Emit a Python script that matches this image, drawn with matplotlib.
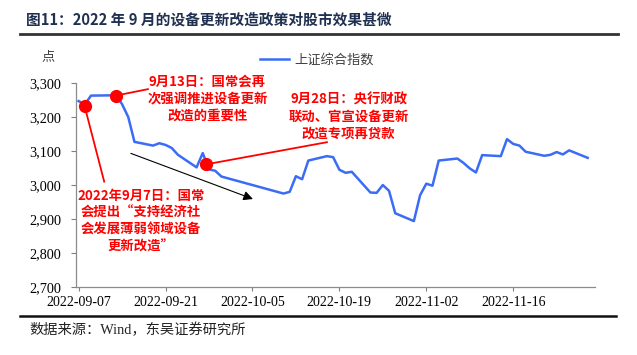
import matplotlib
matplotlib.use("Agg")
import matplotlib.pyplot as plt
import pandas as pd

CJK = ['Noto Sans CJK SC', 'DejaVu Sans']
SERIF = ['Liberation Serif', 'DejaVu Serif']
SERIF_CJK = ['Liberation Serif', 'Noto Sans CJK SC']

dates = ["2022-09-07", "2022-09-08", "2022-09-09", "2022-09-13", "2022-09-14", "2022-09-15",
         "2022-09-16", "2022-09-19", "2022-09-20", "2022-09-21", "2022-09-22", "2022-09-23",
         "2022-09-26", "2022-09-27", "2022-09-28", "2022-09-29", "2022-09-30", "2022-10-10",
         "2022-10-11", "2022-10-12", "2022-10-13", "2022-10-14", "2022-10-17", "2022-10-18",
         "2022-10-19", "2022-10-20", "2022-10-21", "2022-10-24", "2022-10-25", "2022-10-26",
         "2022-10-27", "2022-10-28", "2022-10-31", "2022-11-01", "2022-11-02", "2022-11-03",
         "2022-11-04", "2022-11-07", "2022-11-08", "2022-11-09", "2022-11-10", "2022-11-11",
         "2022-11-14", "2022-11-15", "2022-11-16", "2022-11-17", "2022-11-18", "2022-11-21",
         "2022-11-22", "2022-11-23", "2022-11-24", "2022-11-25", "2022-11-28"]
sse = [3246, 3236, 3262, 3263, 3237, 3199, 3126, 3115, 3122, 3117, 3108, 3088,
       3051, 3093, 3045, 3041, 3024, 2974, 2979, 3025, 3016, 3071, 3084, 3081,
       3044, 3035, 3038, 2977, 2976, 2999, 2982, 2916, 2893, 2969, 3003, 2997,
       3071, 3077, 3064, 3048, 3036, 3087, 3084, 3134, 3120, 3115, 3097, 3085,
       3088, 3096, 3089, 3101, 3079]

series_name = "上证综合指数"
y_ticks = [2700, 2800, 2900, 3000, 3100, 3200, 3300]
x_ticks = ["2022-09-07", "2022-09-21", "2022-10-05", "2022-10-19", "2022-11-02", "2022-11-16"]

# annotation events: marker point, line end point, text position, text
ev_points = [("2022-09-07 23:00", 3232), ("2022-09-13", 3262), ("2022-09-27 14:00", 3060)]
ev_line_ends = [("2022-09-11 03:00", 3009), ("2022-09-18 04:00", 3281), ("2022-10-17", 3125)]
ev_texts = ["2022年9月7日：国常\n会提出“支持经济社\n会发展薄弱领域设备\n更新改造”",
            "9月13日：国常会再\n次强调推进设备更新\n改造的重要性",
            "9月28日：央行财政\n联动、官宣设备更新\n改造专项再贷款"]
ev_text_pos = [("2022-09-17", 2892), ("2022-09-27 18:00", 3253), ("2022-10-20 12:00", 3201)]
arrow_start = ("2022-09-15", 3095)
arrow_end = ("2022-10-05 12:00", 2955)

title = "图11：2022 年 9 月的设备更新改造政策对股市效果甚微"
source = "数据来源：Wind，东吴证券研究所"

fig = plt.figure(figsize=(6.37, 3.55), dpi=100)
ax = fig.add_axes([76/637, 1-286.7/355, (594.7-76)/637, (286.7-82.7)/355])

x = pd.to_datetime(dates)
ax.plot(x, sse, color='#3B6CF6', lw=1.8, label=series_name, zorder=2)

ax.set_ylim(2700, 3300)
ax.set_yticks(y_ticks)
ax.set_yticklabels([f"{v:,}" for v in y_ticks], fontfamily=SERIF, fontsize=10.3)
xt = pd.to_datetime(x_ticks)
ax.set_xticks(xt)
ax.set_xticklabels(x_ticks, fontfamily=SERIF, fontsize=10)
ax.set_xlim(pd.Timestamp("2022-09-07") - pd.Timedelta(hours=10), pd.Timestamp("2022-11-29") + pd.Timedelta(hours=3))
ax.tick_params(axis='y', direction='out', length=3.6, width=0.8, color='#808080', pad=7.2)
ax.tick_params(axis='x', direction='out', length=3, width=0.8, color='#808080', pad=3.8)
for s in ['top', 'right']:
    ax.spines[s].set_visible(False)
for s in ['left', 'bottom']:
    ax.spines[s].set_color('#8c8c8c')
    ax.spines[s].set_linewidth(0.9)
ax.patch.set_alpha(0)

red = '#FF0000'
for (pd_, pv), (ld, lv) in zip(ev_points, ev_line_ends):
    ax.plot([pd.Timestamp(pd_), pd.Timestamp(ld)], [pv, lv], color=red, lw=1.3, zorder=3, clip_on=False)
    ax.plot([pd.Timestamp(pd_)], [pv], 'o', color=red, ms=8.5, zorder=4, clip_on=False)
for t, (td, tv) in zip(ev_texts, ev_text_pos):
    ax.text(pd.Timestamp(td), tv, t, color=red, fontfamily=CJK, fontweight='bold', fontsize=9.6,
            ha='center', va='center', linespacing=1.26, zorder=5)

ax.annotate("", xy=(pd.Timestamp(arrow_end[0]), arrow_end[1]),
            xytext=(pd.Timestamp(arrow_start[0]), arrow_start[1]),
            arrowprops=dict(arrowstyle='-|>', color='black', lw=0.8, mutation_scale=14), zorder=3)

# legend
leg = ax.legend(loc='upper left', bbox_to_anchor=((255-76)/518.7, 1.17), frameon=False,
                prop={'family': CJK, 'size': 9.5}, handlelength=2.2, handletextpad=0.4, borderaxespad=0)
for txt in leg.get_texts():
    txt.set_color('#404040')

fig.text(48/637, 1-57/355, "点", fontfamily=CJK, fontsize=9.5, color='#404040', ha='center', va='center')

fig.text(26/637, 1-20/355, title, fontfamily=CJK, fontweight='bold', fontsize=10.6, color='#1F3050',
         ha='left', va='center')
fig.add_artist(plt.Line2D([20/637, 618/637], [1-33.5/355, 1-33.5/355], color='#333333', lw=2))
fig.add_artist(plt.Line2D([20/637, 616/637], [1-316/355, 1-316/355], color='#111111', lw=1.8))
fig.text(29/637, 1-330/355, source, fontfamily=SERIF_CJK, fontsize=10.3, color='#222222', ha='left', va='center')

fig.savefig("out.png", dpi=100)
